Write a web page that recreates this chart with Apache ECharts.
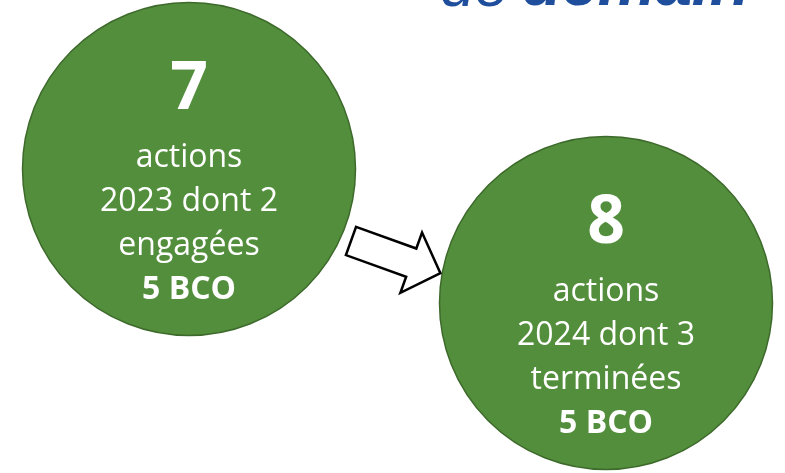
<!DOCTYPE html>
<html>
<head>
<meta charset="utf-8">
<script src="https://cdn.jsdelivr.net/npm/echarts@6/dist/echarts.min.js"></script>
<style>
  html, body { margin: 0; padding: 0; background: #fff; }
  #chart { width: 785px; height: 473px; }
</style>
</head>
<body>
<div id="chart"></div>
<script>
// données
const years = ['2023', '2024']
const actionCounts = [7, 8]
const dontCounts = [2, 3]
const statuses = ['engagées', 'terminées']
const bcoCounts = [5, 5]

const FONT = '"Open Sans", "Noto Sans", sans-serif'

const myChart = echarts.init(document.getElementById('chart'))

const seriesData = years.map((y, i) => ({
  value: [y, y],
  label: {
    formatter: [
      '{big|' + actionCounts[i] + '}',
      '{t|actions}',
      '{t|' + years[i] + ' dont ' + dontCounts[i] + '}',
      '{t|' + statuses[i] + '}',
      '{b|' + bcoCounts[i] + ' BCO}',
    ].join('\n'),
  },
}))

const option = {
  backgroundColor: '#ffffff',
  animation: false,
  grid: { left: 189, right: 179, top: 169, bottom: 170 },
  xAxis: {
    type: 'category',
    data: years,
    boundaryGap: false,
    show: false,
  },
  yAxis: {
    type: 'category',
    data: years,
    inverse: true,
    boundaryGap: false,
    show: false,
  },
  graphic: [
    {
      type: 'text',
      x: 440,
      y: 20,
      style: {
        text: 'de',
        fill: '#1f4f9c',
        font: 'italic 62px "Liberation Sans", Arial, sans-serif',
        verticalAlign: 'bottom',
      },
    },
    {
      type: 'text',
      x: 522,
      y: 20,
      style: {
        text: 'demain',
        fill: '#1f4f9c',
        font: 'italic bold 65px "Liberation Sans", Arial, sans-serif',
        verticalAlign: 'bottom',
      },
    },
    {
      // flèche creuse entre les deux cercles
      type: 'polygon',
      x: 351,
      y: 241,
      rotation: -0.345,
      shape: {
        points: [[0, -15], [64, -15], [64, -32], [95, 0], [64, 32], [64, 15], [0, 15]],
      },
      style: { fill: '#ffffff', stroke: '#000000', lineWidth: 2.5 },
      z: 10,
    },
  ],
  series: [
    {
      type: 'scatter',
      symbol: 'circle',
      symbolSize: 333,
      itemStyle: {
        color: '#538e3c',
        borderColor: '#3d6a2b',
        borderWidth: 1.5,
        opacity: 1,
      },
      label: {
        show: true,
        position: 'inside',
        offset: [0, 9],
        color: '#ffffff',
        align: 'center',
        rich: {
          big: { fontFamily: FONT, fontSize: 66, fontWeight: 'bold', color: '#fff', lineHeight: 92 },
          t: { fontFamily: FONT, fontSize: 32, color: '#fff', lineHeight: 44 },
          b: { fontFamily: FONT, fontSize: 32, fontWeight: 'bold', color: '#fff', lineHeight: 44 },
        },
      },
      emphasis: { disabled: true },
      data: seriesData,
    },
  ],
}

myChart.setOption(option)
</script>
</body>
</html>
